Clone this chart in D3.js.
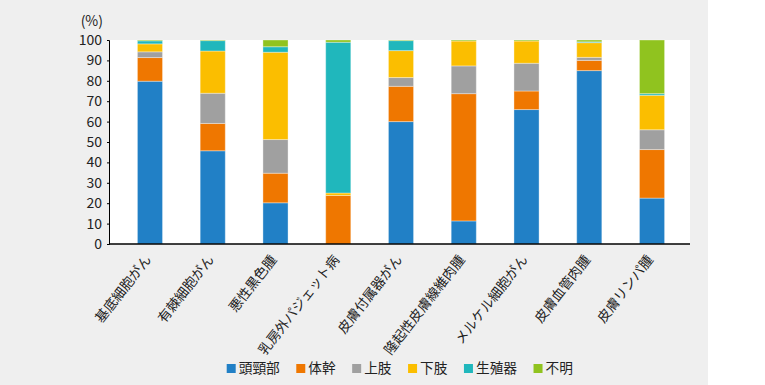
<!DOCTYPE html>
<html>
<head>
<meta charset="utf-8">
<script src="https://cdn.jsdelivr.net/npm/d3@7"></script>
<style>
  html, body { margin: 0; padding: 0; background: #fff; }
  svg { display: block; }
  text { font-family: "Noto Sans CJK JP", "Noto Sans", sans-serif; fill: #222; }
</style>
</head>
<body>
<svg id="chart"></svg>
<script>
    // categories (cancer types)
    var categories = ['基底細胞がん', '有棘細胞がん', '悪性黒色腫', '乳房外パジェット病', '皮膚付属器がん',
        '隆起性皮膚線維肉腫', 'メルケル細胞がん', '皮膚血管肉腫', '皮膚リンパ腫'];

    // body site series (%)
    var seriesNames = ['頭頸部', '体幹', '上肢', '下肢', '生殖器', '不明'];
    var headNeck  = [79.8, 45.7, 20.2, 0,    60.0, 11.3, 65.9, 85.0, 22.5];
    var trunk     = [11.6, 13.4, 14.5, 23.8, 17.3, 62.4, 9.1,  5.0,  23.8];
    var upperLimb = [2.8,  14.8, 16.5, 0,    4.3,  13.6, 13.6, 1.5,  9.7];
    var lowerLimb = [3.9,  20.7, 42.8, 1.2,  13.2, 12.2, 10.9, 7.2,  16.9];
    var genital   = [1.5,  5.1,  2.7,  73.9, 4.9,  0,    0,    0.4,  0.8];
    var unknown   = [0.4,  0.3,  3.3,  1.1,  0.3,  0.5,  0.5,  0.9,  26.3];
    var yTicks = [0, 10, 20, 30, 40, 50, 60, 70, 80, 90, 100];

    var colors = ['#2180c6', '#ef7700', '#a0a0a0', '#fbbe00', '#20b7bc', '#90c31f'];
    var seriesValues = [headNeck, trunk, upperLimb, lowerLimb, genital, unknown];

    var width = 765, height = 385;
    var plot = { left: 109, right: 690, top: 40, bottom: 244 };

    var rows = categories.map(function (c, i) {
        var row = { cat: c };
        seriesNames.forEach(function (s, j) { row[s] = seriesValues[j][i]; });
        return row;
    });

    var svg = d3.select('#chart').attr('width', width).attr('height', height);

    svg.append('rect').attr('x', 0).attr('y', 0).attr('width', 708).attr('height', height).attr('fill', '#efefef');
    svg.append('rect')
        .attr('x', plot.left).attr('y', plot.top)
        .attr('width', plot.right - plot.left).attr('height', plot.bottom - plot.top)
        .attr('fill', '#fff');

    var x = d3.scaleBand().domain(categories).range([118.6, 683.4]).paddingInner(0.6).paddingOuter(0.3);
    var y = d3.scaleLinear().domain([0, 100]).range([plot.bottom, plot.top]);
    var color = d3.scaleOrdinal().domain(seriesNames).range(colors);

    var stack = d3.stack().keys(seriesNames)(rows);

    var layer = svg.selectAll('.layer')
        .data(stack)
        .enter().append('g')
        .attr('class', 'layer')
        .attr('fill', function (d) { return color(d.key); });

    layer.selectAll('rect')
        .data(function (d) { return d; })
        .enter().append('rect')
        .attr('x', function (d) { return x(d.data.cat); })
        .attr('width', x.bandwidth())
        .attr('y', function (d) { return y(Math.min(d[1], 100)); })
        .attr('height', function (d) { return Math.max(0, y(d[0]) - y(Math.min(d[1], 100))); })
        .attr('stroke', '#ffffff')
        .attr('stroke-opacity', 0.35)
        .attr('stroke-width', 1);

    // y axis
    var yAxis = svg.append('g')
        .attr('transform', 'translate(' + plot.left + ',0)')
        .call(d3.axisLeft(y).tickValues(yTicks).tickSize(2).tickPadding(5));
    yAxis.select('.domain').attr('stroke', '#000');
    yAxis.selectAll('.tick line').attr('stroke', '#000');
    yAxis.selectAll('text')
        .style('font-family', '"Noto Sans CJK JP", sans-serif')
        .style('font-size', '14px')
        .attr('fill', '#222');

    svg.append('text')
        .attr('x', 103).attr('y', 21)
        .attr('dy', '0.35em')
        .attr('text-anchor', 'end')
        .style('font-size', '14px')
        .text('(%)');

    // x axis
    svg.append('line')
        .attr('x1', plot.left).attr('x2', plot.right)
        .attr('y1', plot.bottom).attr('y2', plot.bottom)
        .attr('stroke', '#000').attr('stroke-width', 1.5);

    svg.selectAll('.xlabel')
        .data(categories)
        .enter().append('text')
        .attr('class', 'xlabel')
        .attr('text-anchor', 'end')
        .attr('dy', '0.35em')
        .attr('transform', function (d) {
            return 'translate(' + (x(d) + x.bandwidth() / 2 - 2) + ',' + 257 + ') rotate(-52)';
        })
        .style('font-size', '13.5px')
        .text(function (d) { return d; });

    // legend
    var legend = svg.append('g').attr('transform', 'translate(226.7,368.5)');
    var lx = 0;
    seriesNames.forEach(function (s) {
        var g = legend.append('g').attr('transform', 'translate(' + lx + ',0)');
        g.append('rect').attr('x', 0).attr('y', -4.5).attr('width', 9).attr('height', 9).attr('fill', color(s));
        var t = g.append('text').attr('x', 12).attr('y', 0).attr('dy', '0.36em')
            .style('font-size', '13.7px').text(s);
        lx += 12 + t.node().getComputedTextLength() + 16.5;
    });
</script>
</body>
</html>
